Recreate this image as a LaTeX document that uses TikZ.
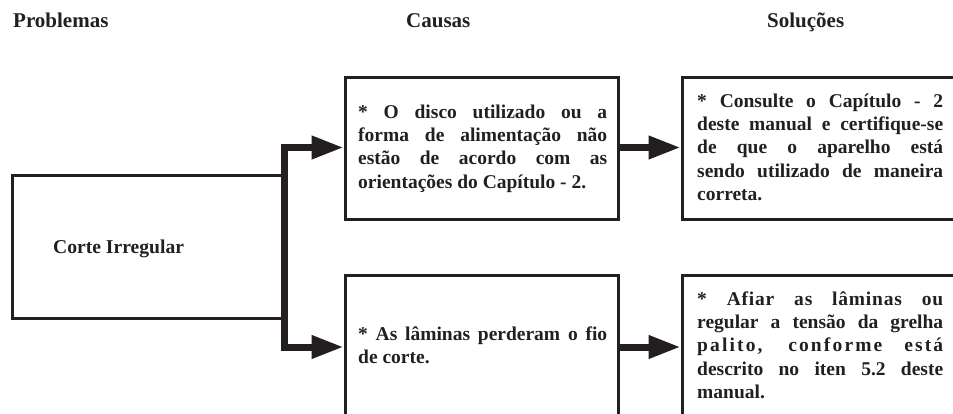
\documentclass[tikz,border=0pt]{standalone}
\usepackage{fontspec}
\setmainfont{Liberation Serif}
\usetikzlibrary{arrows.meta}
\definecolor{ink}{HTML}{231F20}
\hyphenpenalty=10000
\exhyphenpenalty=10000
\tikzset{
  box/.style={draw=ink, line width=3pt, rectangle, inner sep=0pt},
  conn/.style={draw=ink, line width=7pt, line join=miter, -{Triangle[length=32pt,width=22pt]}},
  head/.style={anchor=base west, inner sep=0pt, text=ink, font=\fontsize{21}{25}\selectfont\bfseries},
  para/.style={anchor=base west, inner sep=0pt, text=ink, align=justify,
    font=\fontsize{19.5}{23.35}\selectfont\bfseries},
}
\begin{document}
\begin{tikzpicture}[x=1pt, y=-1pt]
\useasboundingbox (0,0) rectangle (953,414);
% headers
\node[head] (hp) at (13,28) {Problemas};
\node[head] (hc) at (406,28) {Causas};
\node[head] (hs) at (767,28) {Soluções};
% boxes
\node[box, minimum width=271pt, minimum height=142pt] (prob) at (147.5,247) {};
\node[box, minimum width=273pt, minimum height=142pt] (cause1) at (481.5,149) {};
\node[box, minimum width=273pt, minimum height=160pt] (cause2) at (481.5,355) {};
\node[box, minimum width=300pt, minimum height=142pt] (sol1) at (832,149) {};
\node[box, minimum width=300pt, minimum height=160pt] (sol2) at (832,355) {};
% texts
\node[anchor=base west, inner sep=0pt, text=ink, font=\fontsize{19.6}{23}\selectfont\bfseries] (tprob) at (53,254) {Corte Irregular};
\node[para, text width=249pt] (tc1) at (358,118.3) {* O disco utilizado ou a\linebreak forma de alimentação não\linebreak estão de acordo com as\linebreak orientações do Capítulo - 2.};
\node[para, text width=249pt] (tc2) at (358,340) {* As lâminas perderam o fio\linebreak de corte.};
\node[para, text width=246pt] (ts1) at (697,107.3) {* Consulte o Capítulo - 2\linebreak deste manual e certifique-se\linebreak de que o aparelho está\linebreak sendo utilizado de maneira\linebreak correta.};
\node[para, text width=246pt] (ts2) at (697,305) {{\addfontfeature{LetterSpace=4}* Afiar as lâminas ou}\linebreak regular a tensão da grelha\linebreak {\addfontfeature{LetterSpace=11}palito, conforme está}\linebreak descrito no iten 5.2 deste\linebreak manual.};
% connectors
\coordinate (jt) at (284.5,147.5);
\coordinate (jb) at (284.5,347);
\draw[conn] (jb) -- (jt) -- (cause1.west |- jt);
\draw[conn] (jt) -- (jb) -- (cause2.west |- jb);
\draw[conn] (cause1.east |- jt) -- (sol1.west |- jt);
\draw[conn] (cause2.east |- jb) -- (sol2.west |- jb);
\end{tikzpicture}
\end{document}
